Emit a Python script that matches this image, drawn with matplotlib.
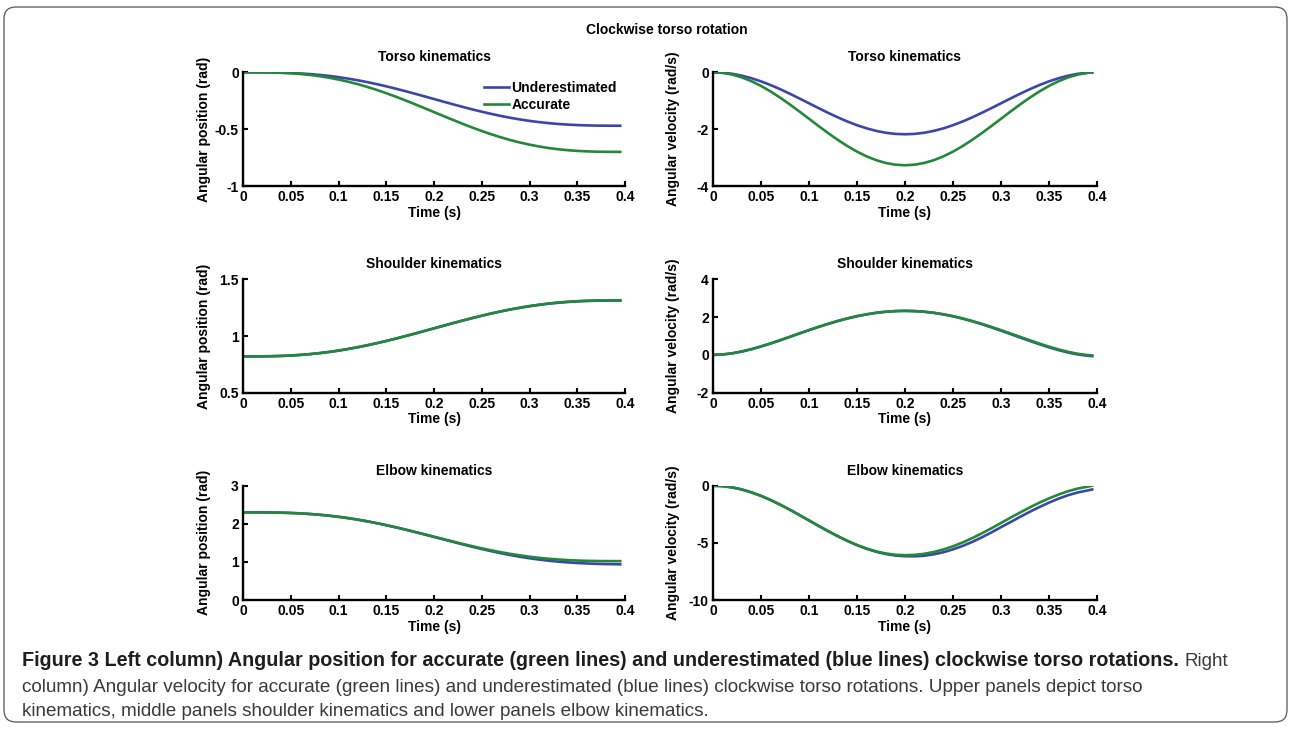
import numpy as np
import matplotlib
matplotlib.use('Agg')
import matplotlib.pyplot as plt
from matplotlib.patches import FancyBboxPatch
from matplotlib.transforms import IdentityTransform

plt.rcParams['font.family'] = ['Liberation Sans', 'DejaVu Sans']
plt.rcParams['font.weight'] = 'bold'
plt.rcParams['font.size'] = 10
plt.rcParams['axes.unicode_minus'] = False

# time samples (s)
time = [0.00, 0.01, 0.02, 0.03, 0.04, 0.05, 0.06, 0.07, 0.08, 0.09,
        0.10, 0.11, 0.12, 0.13, 0.14, 0.15, 0.16, 0.17, 0.18, 0.19,
        0.20, 0.21, 0.22, 0.23, 0.24, 0.25, 0.26, 0.27, 0.28, 0.29,
        0.30, 0.31, 0.32, 0.33, 0.34, 0.35, 0.36, 0.37, 0.38, 0.39, 0.395]

# torso (rad, rad/s)
torso_pos_under = [0, -0.0000, -0.0004, -0.0013, -0.0030, -0.0059, -0.0100, -0.0156, -0.0229, -0.0319,
                   -0.0427, -0.0554, -0.0699, -0.0861, -0.1040, -0.1234, -0.1440, -0.1658, -0.1884, -0.2115,
                   -0.2350, -0.2585, -0.2816, -0.3042, -0.3260, -0.3466, -0.3660, -0.3839, -0.4001, -0.4146,
                   -0.4273, -0.4381, -0.4471, -0.4544, -0.4600, -0.4641, -0.4670, -0.4687, -0.4696, -0.4700, -0.4700]
torso_pos_acc = [0, -0.0001, -0.0006, -0.0019, -0.0045, -0.0087, -0.0149, -0.0232, -0.0340, -0.0475,
                 -0.0636, -0.0825, -0.1040, -0.1282, -0.1549, -0.1837, -0.2145, -0.2469, -0.2806, -0.3151,
                 -0.3500, -0.3849, -0.4194, -0.4531, -0.4855, -0.5163, -0.5451, -0.5718, -0.5960, -0.6175,
                 -0.6364, -0.6525, -0.6660, -0.6768, -0.6851, -0.6913, -0.6955, -0.6981, -0.6994, -0.6999, -0.7000]
torso_vel_under = [0, -0.013, -0.053, -0.119, -0.208, -0.319, -0.449, -0.595, -0.753, -0.920,
                   -1.090, -1.261, -1.427, -1.585, -1.731, -1.861, -1.972, -2.061, -2.127, -2.167,
                   -2.180, -2.167, -2.127, -2.061, -1.972, -1.861, -1.731, -1.585, -1.427, -1.261,
                   -1.090, -0.920, -0.753, -0.595, -0.449, -0.319, -0.208, -0.119, -0.053, -0.013, -0.003]
torso_vel_acc = [0, -0.020, -0.080, -0.178, -0.312, -0.479, -0.674, -0.893, -1.130, -1.379,
                 -1.635, -1.891, -2.140, -2.377, -2.596, -2.791, -2.958, -3.092, -3.190, -3.250,
                 -3.270, -3.250, -3.190, -3.092, -2.958, -2.791, -2.596, -2.377, -2.140, -1.891,
                 -1.635, -1.379, -1.130, -0.893, -0.674, -0.479, -0.312, -0.178, -0.080, -0.020, -0.005]

# shoulder
shoulder_pos_under = [0.8200, 0.8201, 0.8206, 0.8219, 0.8242, 0.8279, 0.8332, 0.8401, 0.8487, 0.8591,
                      0.8712, 0.8852, 0.9007, 0.9179, 0.9364, 0.9562, 0.9771, 0.9989, 1.0214, 1.0443,
                      1.0675, 1.0907, 1.1136, 1.1361, 1.1579, 1.1788, 1.1985, 1.2168, 1.2338, 1.2491,
                      1.2629, 1.2748, 1.2850, 1.2935, 1.3002, 1.3054, 1.3090, 1.3112, 1.3124, 1.3128, 1.3127]
shoulder_pos_acc = [0.8200, 0.8201, 0.8206, 0.8219, 0.8242, 0.8279, 0.8332, 0.8401, 0.8487, 0.8591,
                    0.8712, 0.8852, 0.9007, 0.9179, 0.9364, 0.9562, 0.9771, 0.9989, 1.0214, 1.0443,
                    1.0675, 1.0907, 1.1136, 1.1361, 1.1579, 1.1788, 1.1986, 1.2171, 1.2343, 1.2498,
                    1.2638, 1.2759, 1.2863, 1.2950, 1.3018, 1.3071, 1.3108, 1.3131, 1.3144, 1.3149, 1.3148]
shoulder_vel_under = [0, 0.022, 0.084, 0.179, 0.302, 0.446, 0.606, 0.777, 0.954, 1.134,
                      1.311, 1.482, 1.644, 1.794, 1.930, 2.048, 2.147, 2.226, 2.284, 2.318,
                      2.330, 2.318, 2.284, 2.226, 2.147, 2.043, 1.920, 1.779, 1.624, 1.457,
                      1.281, 1.100, 0.918, 0.738, 0.564, 0.400, 0.252, 0.124, 0.023, -0.046, -0.066]
shoulder_vel_acc = [0, 0.022, 0.084, 0.179, 0.302, 0.446, 0.606, 0.777, 0.954, 1.134,
                    1.311, 1.482, 1.644, 1.794, 1.930, 2.048, 2.147, 2.226, 2.284, 2.318,
                    2.330, 2.318, 2.284, 2.226, 2.147, 2.048, 1.930, 1.794, 1.644, 1.482,
                    1.311, 1.133, 0.953, 0.774, 0.600, 0.436, 0.288, 0.160, 0.059, -0.010, -0.030]

# elbow
elbow_pos_under = [2.3000, 2.2999, 2.2990, 2.2965, 2.2917, 2.2841, 2.2728, 2.2575, 2.2378, 2.2132,
                   2.1837, 2.1492, 2.1098, 2.0655, 2.0168, 1.9639, 1.9073, 1.8477, 1.7854, 1.7215,
                   1.6564, 1.5913, 1.5258, 1.4607, 1.3979, 1.3379, 1.2816, 1.2281, 1.1790, 1.1348,
                   1.0955, 1.0612, 1.0318, 1.0073, 0.9872, 0.9711, 0.9587, 0.9491, 0.9430, 0.9385, 0.9360]
elbow_pos_acc = [2.3000, 2.2999, 2.2990, 2.2965, 2.2917, 2.2841, 2.2728, 2.2575, 2.2378, 2.2132,
                 2.1837, 2.1492, 2.1098, 2.0655, 2.0168, 1.9640, 1.9077, 1.8485, 1.7870, 1.7239,
                 1.6600, 1.5961, 1.5330, 1.4715, 1.4123, 1.3559, 1.3032, 1.2545, 1.2102, 1.1708,
                 1.1363, 1.1068, 1.0822, 1.0625, 1.0472, 1.0359, 1.0283, 1.0235, 1.0210, 1.0201, 1.0200]
elbow_vel_under = [0, -0.038, -0.149, -0.331, -0.581, -0.890, -1.253, -1.660, -2.101, -2.565,
                   -3.040, -3.516, -3.979, -4.420, -4.827, -5.200, -5.520, -5.780, -5.980, -6.110,
                   -6.170, -6.180, -6.130, -6.000, -5.820, -5.570, -5.270, -4.920, -4.520, -4.090,
                   -3.630, -3.180, -2.720, -2.280, -1.870, -1.480, -1.130, -0.830, -0.590, -0.420, -0.330]
elbow_vel_acc = [0, -0.038, -0.149, -0.331, -0.581, -0.890, -1.253, -1.660, -2.101, -2.565,
                 -3.040, -3.516, -3.979, -4.420, -4.827, -5.190, -5.499, -5.749, -5.931, -6.042,
                 -6.080, -6.052, -5.961, -5.799, -5.579, -5.300, -4.967, -4.590, -4.169, -3.726,
                 -3.260, -2.795, -2.341, -1.900, -1.483, -1.110, -0.771, -0.481, -0.249, -0.088, 0.0]

x_ticks = [0, 0.05, 0.1, 0.15, 0.2, 0.25, 0.3, 0.35, 0.4]
x_tick_labels = ['0', '0.05', '0.1', '0.15', '0.2', '0.25', '0.3', '0.35', '0.4']

BLUE = '#3c46a8'
GREEN = '#23883a'

# (title, ylabel, under, acc, ylim, yticks, yticklabels)
panels = [
    ('Torso kinematics', 'Angular position (rad)', torso_pos_under, torso_pos_acc,
     (-1, 0), [-1, -0.5, 0], ['-1', '-0.5', '0']),
    ('Torso kinematics', 'Angular velocity (rad/s)', torso_vel_under, torso_vel_acc,
     (-4, 0), [-4, -2, 0], ['-4', '-2', '0']),
    ('Shoulder kinematics', 'Angular position (rad)', shoulder_pos_under, shoulder_pos_acc,
     (0.5, 1.5), [0.5, 1, 1.5], ['0.5', '1', '1.5']),
    ('Shoulder kinematics', 'Angular velocity (rad/s)', shoulder_vel_under, shoulder_vel_acc,
     (-2, 4), [-2, 0, 2, 4], ['-2', '0', '2', '4']),
    ('Elbow kinematics', 'Angular position (rad)', elbow_pos_under, elbow_pos_acc,
     (0, 3), [0, 1, 2, 3], ['0', '1', '2', '3']),
    ('Elbow kinematics', 'Angular velocity (rad/s)', elbow_vel_under, elbow_vel_acc,
     (-10, 0), [-10, -5, 0], ['-10', '-5', '0']),
]

W, H = 1290, 731
fig = plt.figure(figsize=(W / 100, H / 100), dpi=100)
fig.patch.set_facecolor('white')

col_left = [243, 713]
col_width = [382, 384]
row_top = [72.3, 279.3, 485.7]
row_height = [113.7, 113.4, 114.3]

for i, (title, ylab, under, acc, ylim, yt, ytl) in enumerate(panels):
    r, c = divmod(i, 2)
    left = col_left[c] / W
    bottom = 1 - (row_top[r] + row_height[r]) / H
    ax = fig.add_axes([left, bottom, col_width[c] / W, row_height[r] / H])
    ax.plot(time, under, color=BLUE, lw=1.9, label='Underestimated')
    ax.plot(time, acc, color=GREEN, lw=1.9, label='Accurate')
    ax.set_xlim(0, 0.4)
    ax.set_ylim(*ylim)
    ax.set_xticks(x_ticks)
    ax.set_xticklabels(x_tick_labels)
    ax.set_yticks(yt)
    ax.set_yticklabels(ytl)
    for s in ['top', 'right']:
        ax.spines[s].set_visible(False)
    for s in ['left', 'bottom']:
        ax.spines[s].set_linewidth(1.7)
    ax.tick_params(direction='in', length=3.5, width=1.5, labelsize=10, pad=3)
    ax.set_title(title, fontsize=10, fontweight='bold', pad=8)
    ax.set_xlabel('Time (s)', fontsize=10, fontweight='bold', labelpad=1)
    ax.set_ylabel(ylab, fontsize=10, fontweight='bold')
    ax.yaxis.set_label_coords(-0.085, 0.5)
    if i == 0:
        ax.legend(loc='upper left', bbox_to_anchor=(0.63, 0.925), frameon=False,
                  fontsize=10, handlelength=1.8, handletextpad=0.2,
                  labelspacing=0.25, borderpad=0, borderaxespad=0)

fig.text(667 / W, 1 - 30 / H, 'Clockwise torso rotation', ha='center', va='center',
         fontsize=10, fontweight='bold')

# outer rounded frame
frame = FancyBboxPatch((4, H - 722), 1283, 715, boxstyle='round,pad=0,rounding_size=12',
                       transform=IdentityTransform(), fill=False, edgecolor='#555555', lw=0.9)
fig.add_artist(frame)

# caption
cap_fam = ['Liberation Sans Narrow', 'Liberation Sans', 'DejaVu Sans']
bold_part = ('Figure 3 Left column) Angular position for accurate (green lines) and '
             'underestimated (blue lines) clockwise torso rotations.')
line1_rest = 'Right'
line2 = ('column) Angular velocity for accurate (green lines) and underestimated (blue lines) '
         'clockwise torso rotations. Upper panels depict torso')
line3 = 'kinematics, middle panels shoulder kinematics and lower panels elbow kinematics.'

renderer = fig.canvas.get_renderer()

tb = fig.text(22 / W, 1 - 661 / H, bold_part, ha='left', va='center', fontsize=12,
              fontweight='bold', family=cap_fam, color='#1e1e1e')
wb = tb.get_window_extent(renderer).width
tb.set_fontsize(12 * 1148 / wb)

t2 = fig.text(22 / W, 1 - 687 / H, line2, ha='left', va='center', fontsize=12,
              fontweight='normal', family=cap_fam, color='#3a3a3a')
w2 = t2.get_window_extent(renderer).width
fs_reg = 12 * 1131 / w2
t2.set_fontsize(fs_reg)

fig.text(22 / W, 1 - 712 / H, line3, ha='left', va='center', fontsize=fs_reg,
         fontweight='normal', family=cap_fam, color='#3a3a3a')

wb = tb.get_window_extent(renderer)
fig.text((wb.x1 + 6) / W, 1 - 661 / H, line1_rest, ha='left', va='center', fontsize=fs_reg,
         fontweight='normal', family=cap_fam, color='#3a3a3a')

fig.savefig('out.png', dpi=100)
